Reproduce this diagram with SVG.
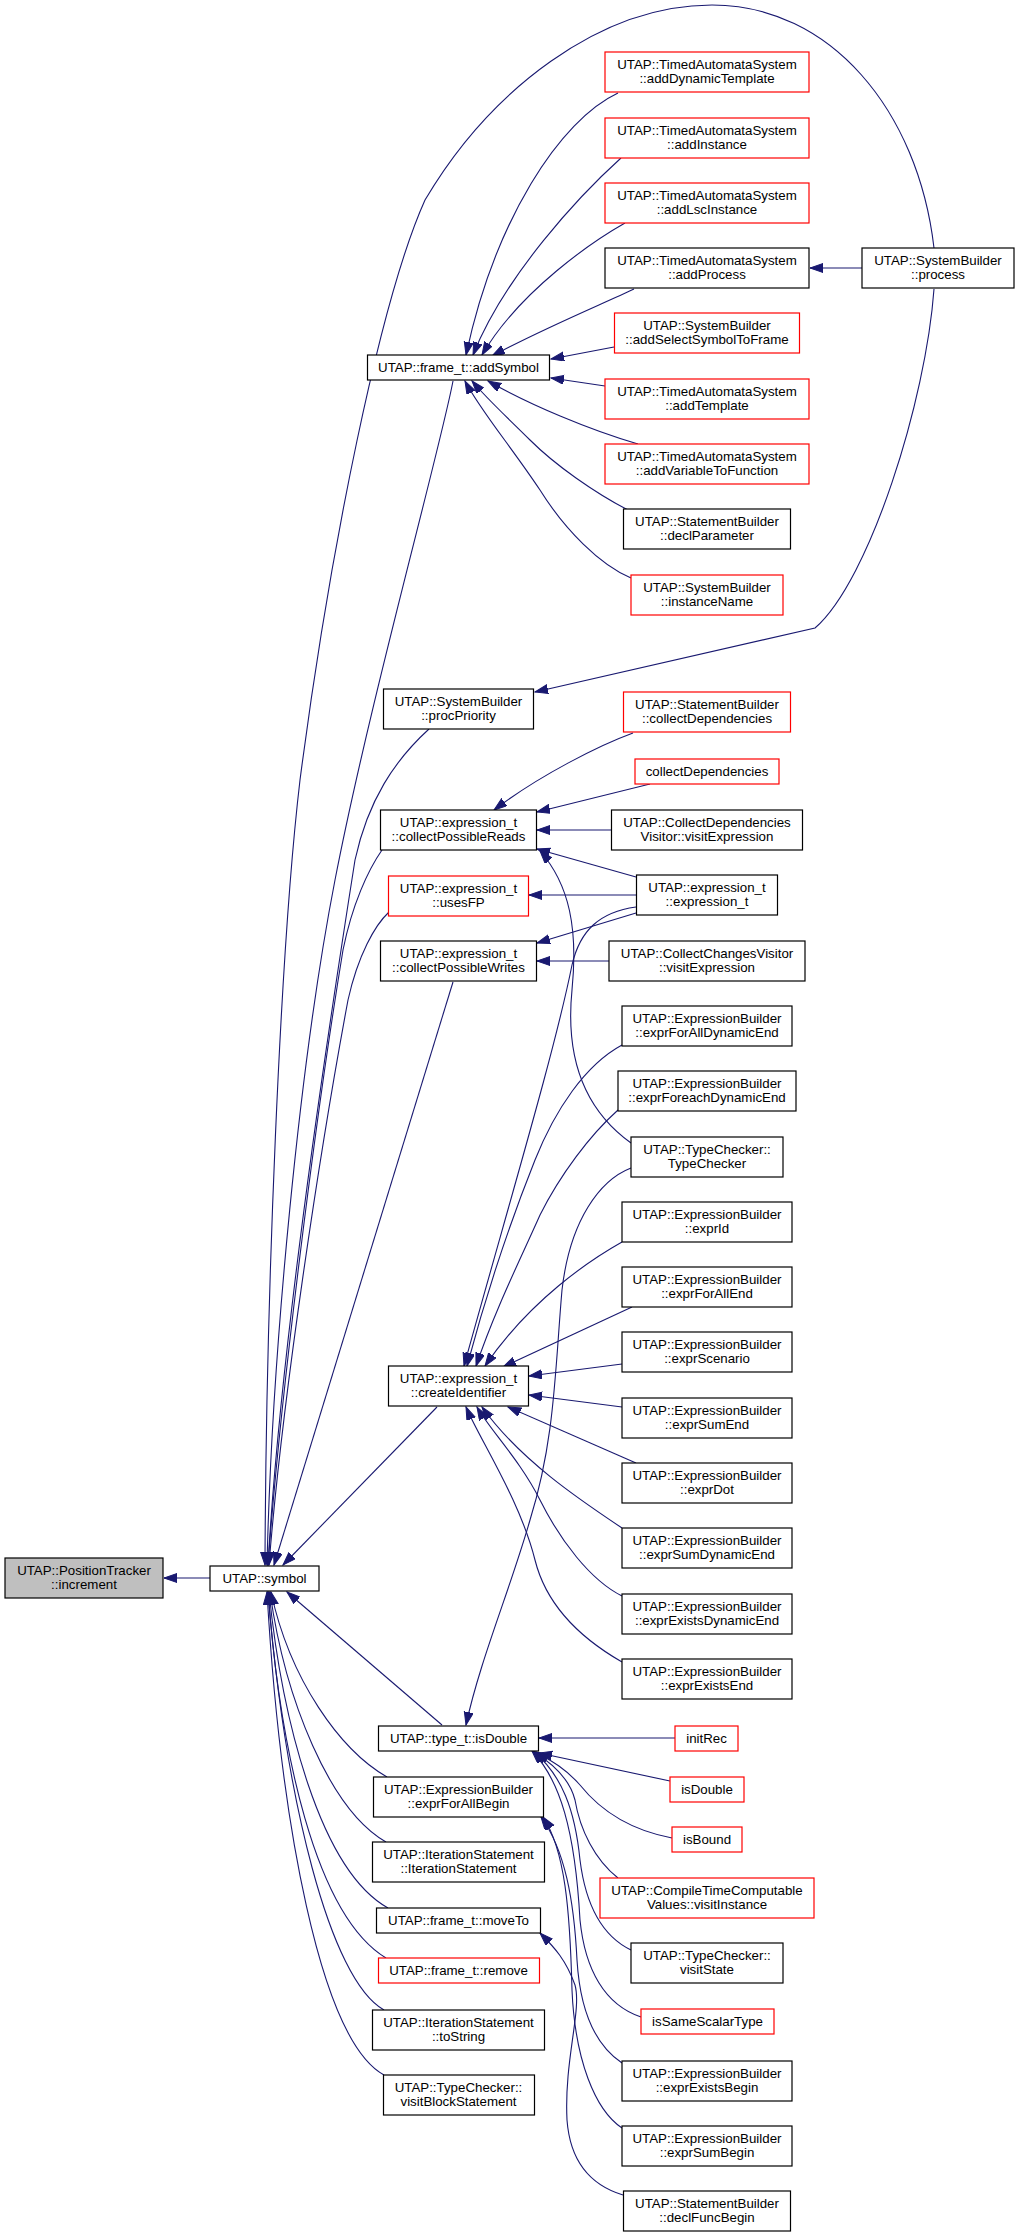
<svg xmlns="http://www.w3.org/2000/svg" width="1015" height="2238" viewBox="0 0 1015 2238">
<style>
.b{fill:#fff;stroke:#000;stroke-width:1.2}
.r{fill:#fff;stroke:#f00;stroke-width:1.2}
.g{fill:#bfbfbf;stroke:#000;stroke-width:1.2}
text{font-family:"Liberation Sans",Arial,sans-serif;font-size:13.3px;text-anchor:middle;fill:#000}
.e{fill:none;stroke:#191970;stroke-width:1.1;marker-end:url(#ah)}
</style>
<defs>
<marker id="ah" markerWidth="14" markerHeight="10" refX="13" refY="4.5" orient="auto" markerUnits="userSpaceOnUse"><path d="M0,0 L13,4.5 L0,9 Z" fill="#191970" stroke="#191970" stroke-width="1"/></marker>
</defs>
<rect width="1015" height="2238" fill="#fff"/>
<g id="edges">
<path class="e" d="M210,1578 L164,1578"/>
<path class="e" d="M862,268 L810,268"/>
<path class="e" d="M934,248 C918,110 830,5 712,5 C600,5 490,90 425,200 C380,300 330,550 300,780 C280,950 266,1300 265,1565"/>
<path class="e" d="M934,289 C926,400 870,580 815,628 L535,692"/>
<path class="e" d="M618,93 C560,120 495,220 466,355"/>
<path class="e" d="M621,158 C580,195 505,275 473,355"/>
<path class="e" d="M625,223 C595,240 520,290 482,355"/>
<path class="e" d="M634,289 C600,305 540,330 492,356"/>
<path class="e" d="M614,347 L551,359"/>
<path class="e" d="M605,386 L551,378"/>
<path class="e" d="M638,444 C590,430 530,405 488,381"/>
<path class="e" d="M628,510 C595,493 555,465 530,440 C510,420 488,400 472,381"/>
<path class="e" d="M631,578 C600,565 565,530 540,490 C510,445 480,410 465,381"/>
<path class="e" d="M453,381 C440,450 370,700 335,880 C300,1060 272,1350 267,1565"/>
<path class="e" d="M429,729 C395,760 368,800 355,860 C325,1050 280,1350 268,1565"/>
<path class="e" d="M382,850 C368,870 352,905 343,950 C315,1120 280,1400 268,1565"/>
<path class="e" d="M389,912 C375,925 358,955 348,1000 C320,1150 282,1400 269,1565"/>
<path class="e" d="M453,982 L274,1565"/>
<path class="e" d="M437,1407 L283,1565"/>
<path class="e" d="M442,1725 L287,1592"/>
<path class="e" d="M387,1777 C340,1750 290,1680 271,1592"/>
<path class="e" d="M386,1842 C330,1810 285,1700 270,1592"/>
<path class="e" d="M388,1908 C320,1870 282,1720 269,1592"/>
<path class="e" d="M386,1958 C315,1915 280,1750 268,1592"/>
<path class="e" d="M384,2010 C330,1980 285,1800 268,1592"/>
<path class="e" d="M384,2075 C320,2040 280,1820 267,1592"/>
<path class="e" d="M633,733 C600,745 540,775 494,810"/>
<path class="e" d="M650,784 L537,812"/>
<path class="e" d="M612,830 L537,830"/>
<path class="e" d="M636,877 L537,849"/>
<path class="e" d="M631,1143 C585,1110 565,1060 572,990 C578,930 570,885 540,851"/>
<path class="e" d="M636,895 L529,895"/>
<path class="e" d="M636,913 L537,943"/>
<path class="e" d="M609,961 L537,961"/>
<path class="e" d="M636,907 C600,912 580,930 572,965 C555,1050 510,1200 464,1366"/>
<path class="e" d="M622,1045 C585,1065 555,1110 535,1160 C515,1210 490,1280 467,1366"/>
<path class="e" d="M618,1110 C590,1135 560,1175 540,1215 C520,1260 495,1310 476,1366"/>
<path class="e" d="M622,1242 C590,1260 530,1300 485,1366"/>
<path class="e" d="M632,1307 L503,1367"/>
<path class="e" d="M622,1364 L529,1376"/>
<path class="e" d="M622,1407 L529,1395"/>
<path class="e" d="M636,1463 L508,1407"/>
<path class="e" d="M622,1528 C580,1500 520,1460 482,1407"/>
<path class="e" d="M622,1596 C590,1580 560,1540 540,1500 C520,1460 490,1430 477,1407"/>
<path class="e" d="M622,1662 C575,1635 545,1600 535,1560 C520,1500 480,1440 466,1407"/>
<path class="e" d="M631,1168 C600,1180 570,1220 562,1290 C555,1370 555,1440 530,1520 C510,1590 480,1660 466,1725"/>
<path class="e" d="M675,1738 L539,1738"/>
<path class="e" d="M670,1781 L539,1753"/>
<path class="e" d="M672,1838 C630,1830 600,1810 580,1785 C565,1768 550,1760 536,1752"/>
<path class="e" d="M618,1878 C595,1860 580,1830 575,1800 C570,1780 555,1765 534,1752"/>
<path class="e" d="M631,1950 C600,1935 585,1900 580,1860 C575,1810 562,1775 533,1751"/>
<path class="e" d="M641,2017 C605,2005 585,1970 580,1920 C575,1830 560,1780 532,1751"/>
<path class="e" d="M622,2063 C595,2045 580,2010 577,1960 C574,1900 565,1850 541,1817"/>
<path class="e" d="M622,2128 C595,2110 575,2060 572,1990 C570,1910 565,1850 543,1817"/>
<path class="e" d="M623,2195 C590,2185 570,2160 567,2120 C564,2060 582,2010 575,1985 C566,1960 555,1948 540,1933"/>
</g>
<g id="nodes">
<g id="n_increment"><rect class="g" x="5" y="1558" width="158" height="40"/><text x="84" y="1575">UTAP::PositionTracker</text><text x="84" y="1588.5">::increment</text></g>
<g id="n_symbol"><rect class="b" x="210" y="1566" width="109" height="25"/><text x="264.5" y="1582.5">UTAP::symbol</text></g>
<g id="n_addSymbol"><rect class="b" x="367.5" y="355" width="182" height="25"/><text x="458.5" y="371.5">UTAP::frame_t::addSymbol</text></g>
<g id="n_addDynamicTemplate"><rect class="r" x="605" y="52" width="204" height="40"/><text x="707" y="69">UTAP::TimedAutomataSystem</text><text x="707" y="82.5">::addDynamicTemplate</text></g>
<g id="n_addInstance"><rect class="r" x="605" y="118" width="204" height="40"/><text x="707" y="135">UTAP::TimedAutomataSystem</text><text x="707" y="148.5">::addInstance</text></g>
<g id="n_addLscInstance"><rect class="r" x="605" y="183" width="204" height="40"/><text x="707" y="200">UTAP::TimedAutomataSystem</text><text x="707" y="213.5">::addLscInstance</text></g>
<g id="n_addProcess"><rect class="b" x="605" y="248" width="204" height="40"/><text x="707" y="265">UTAP::TimedAutomataSystem</text><text x="707" y="278.5">::addProcess</text></g>
<g id="n_process"><rect class="b" x="862" y="248" width="152" height="40"/><text x="938" y="265">UTAP::SystemBuilder</text><text x="938" y="278.5">::process</text></g>
<g id="n_addSelectSymbolToFrame"><rect class="r" x="614.5" y="313" width="185" height="40"/><text x="707" y="330">UTAP::SystemBuilder</text><text x="707" y="343.5">::addSelectSymbolToFrame</text></g>
<g id="n_addTemplate"><rect class="r" x="605" y="379" width="204" height="40"/><text x="707" y="396">UTAP::TimedAutomataSystem</text><text x="707" y="409.5">::addTemplate</text></g>
<g id="n_addVariableToFunction"><rect class="r" x="605" y="444" width="204" height="40"/><text x="707" y="461">UTAP::TimedAutomataSystem</text><text x="707" y="474.5">::addVariableToFunction</text></g>
<g id="n_declParameter"><rect class="b" x="623.5" y="509" width="167" height="40"/><text x="707" y="526">UTAP::StatementBuilder</text><text x="707" y="539.5">::declParameter</text></g>
<g id="n_instanceName"><rect class="r" x="631" y="575" width="152" height="40"/><text x="707" y="592">UTAP::SystemBuilder</text><text x="707" y="605.5">::instanceName</text></g>
<g id="n_procPriority"><rect class="b" x="383.5" y="689" width="150" height="40"/><text x="458.5" y="706">UTAP::SystemBuilder</text><text x="458.5" y="719.5">::procPriority</text></g>
<g id="n_sbCollectDependencies"><rect class="r" x="623.5" y="692" width="167" height="40"/><text x="707" y="709">UTAP::StatementBuilder</text><text x="707" y="722.5">::collectDependencies</text></g>
<g id="n_collectDependencies"><rect class="r" x="635" y="759" width="144" height="25"/><text x="707" y="775.5">collectDependencies</text></g>
<g id="n_collectPossibleReads"><rect class="b" x="380.5" y="810" width="156" height="40"/><text x="458.5" y="827">UTAP::expression_t</text><text x="458.5" y="840.5">::collectPossibleReads</text></g>
<g id="n_cdvVisitExpression"><rect class="b" x="611.5" y="810" width="191" height="40"/><text x="707" y="827">UTAP::CollectDependencies</text><text x="707" y="840.5">Visitor::visitExpression</text></g>
<g id="n_usesFP"><rect class="r" x="388.5" y="876" width="140" height="40"/><text x="458.5" y="893">UTAP::expression_t</text><text x="458.5" y="906.5">::usesFP</text></g>
<g id="n_expression_t"><rect class="b" x="636.5" y="875" width="141" height="40"/><text x="707" y="892">UTAP::expression_t</text><text x="707" y="905.5">::expression_t</text></g>
<g id="n_collectPossibleWrites"><rect class="b" x="380.5" y="941" width="156" height="40"/><text x="458.5" y="958">UTAP::expression_t</text><text x="458.5" y="971.5">::collectPossibleWrites</text></g>
<g id="n_ccvVisitExpression"><rect class="b" x="609" y="941" width="196" height="40"/><text x="707" y="958">UTAP::CollectChangesVisitor</text><text x="707" y="971.5">::visitExpression</text></g>
<g id="n_exprForAllDynamicEnd"><rect class="b" x="622" y="1006" width="170" height="40"/><text x="707" y="1023">UTAP::ExpressionBuilder</text><text x="707" y="1036.5">::exprForAllDynamicEnd</text></g>
<g id="n_exprForeachDynamicEnd"><rect class="b" x="618" y="1071" width="178" height="40"/><text x="707" y="1088">UTAP::ExpressionBuilder</text><text x="707" y="1101.5">::exprForeachDynamicEnd</text></g>
<g id="n_typeChecker"><rect class="b" x="631" y="1137" width="152" height="40"/><text x="707" y="1154">UTAP::TypeChecker::</text><text x="707" y="1167.5">TypeChecker</text></g>
<g id="n_exprId"><rect class="b" x="622" y="1202" width="170" height="40"/><text x="707" y="1219">UTAP::ExpressionBuilder</text><text x="707" y="1232.5">::exprId</text></g>
<g id="n_exprForAllEnd"><rect class="b" x="622" y="1267" width="170" height="40"/><text x="707" y="1284">UTAP::ExpressionBuilder</text><text x="707" y="1297.5">::exprForAllEnd</text></g>
<g id="n_exprScenario"><rect class="b" x="622" y="1332" width="170" height="40"/><text x="707" y="1349">UTAP::ExpressionBuilder</text><text x="707" y="1362.5">::exprScenario</text></g>
<g id="n_createIdentifier"><rect class="b" x="388.5" y="1366" width="140" height="40"/><text x="458.5" y="1383">UTAP::expression_t</text><text x="458.5" y="1396.5">::createIdentifier</text></g>
<g id="n_exprSumEnd"><rect class="b" x="622" y="1398" width="170" height="40"/><text x="707" y="1415">UTAP::ExpressionBuilder</text><text x="707" y="1428.5">::exprSumEnd</text></g>
<g id="n_exprDot"><rect class="b" x="622" y="1463" width="170" height="40"/><text x="707" y="1480">UTAP::ExpressionBuilder</text><text x="707" y="1493.5">::exprDot</text></g>
<g id="n_exprSumDynamicEnd"><rect class="b" x="622" y="1528" width="170" height="40"/><text x="707" y="1545">UTAP::ExpressionBuilder</text><text x="707" y="1558.5">::exprSumDynamicEnd</text></g>
<g id="n_exprExistsDynamicEnd"><rect class="b" x="622" y="1594" width="170" height="40"/><text x="707" y="1611">UTAP::ExpressionBuilder</text><text x="707" y="1624.5">::exprExistsDynamicEnd</text></g>
<g id="n_exprExistsEnd"><rect class="b" x="622" y="1659" width="170" height="40"/><text x="707" y="1676">UTAP::ExpressionBuilder</text><text x="707" y="1689.5">::exprExistsEnd</text></g>
<g id="n_typeIsDouble"><rect class="b" x="378.5" y="1726" width="160" height="25"/><text x="458.5" y="1742.5">UTAP::type_t::isDouble</text></g>
<g id="n_initRec"><rect class="r" x="675" y="1726" width="63" height="25"/><text x="706.5" y="1742.5">initRec</text></g>
<g id="n_isDouble"><rect class="r" x="670" y="1777" width="74" height="25"/><text x="707" y="1793.5">isDouble</text></g>
<g id="n_exprForAllBegin"><rect class="b" x="373.5" y="1777" width="170" height="40"/><text x="458.5" y="1794">UTAP::ExpressionBuilder</text><text x="458.5" y="1807.5">::exprForAllBegin</text></g>
<g id="n_isBound"><rect class="r" x="672" y="1827" width="70" height="25"/><text x="707" y="1843.5">isBound</text></g>
<g id="n_iterationStatement"><rect class="b" x="372.5" y="1842" width="172" height="40"/><text x="458.5" y="1859">UTAP::IterationStatement</text><text x="458.5" y="1872.5">::IterationStatement</text></g>
<g id="n_visitInstance"><rect class="r" x="600" y="1878" width="214" height="40"/><text x="707" y="1895">UTAP::CompileTimeComputable</text><text x="707" y="1908.5">Values::visitInstance</text></g>
<g id="n_moveTo"><rect class="b" x="376.5" y="1908" width="164" height="25"/><text x="458.5" y="1924.5">UTAP::frame_t::moveTo</text></g>
<g id="n_visitState"><rect class="b" x="631" y="1943" width="152" height="40"/><text x="707" y="1960">UTAP::TypeChecker::</text><text x="707" y="1973.5">visitState</text></g>
<g id="n_remove"><rect class="r" x="378.5" y="1958" width="161" height="25"/><text x="458.5" y="1974.5">UTAP::frame_t::remove</text></g>
<g id="n_isSameScalarType"><rect class="r" x="641" y="2009" width="133" height="25"/><text x="707.5" y="2025.5">isSameScalarType</text></g>
<g id="n_toString"><rect class="b" x="372.5" y="2010" width="172" height="40"/><text x="458.5" y="2027">UTAP::IterationStatement</text><text x="458.5" y="2040.5">::toString</text></g>
<g id="n_exprExistsBegin"><rect class="b" x="622" y="2061" width="170" height="40"/><text x="707" y="2078">UTAP::ExpressionBuilder</text><text x="707" y="2091.5">::exprExistsBegin</text></g>
<g id="n_visitBlockStatement"><rect class="b" x="383.5" y="2075" width="151" height="40"/><text x="458.5" y="2092">UTAP::TypeChecker::</text><text x="458.5" y="2105.5">visitBlockStatement</text></g>
<g id="n_exprSumBegin"><rect class="b" x="622" y="2126" width="170" height="40"/><text x="707" y="2143">UTAP::ExpressionBuilder</text><text x="707" y="2156.5">::exprSumBegin</text></g>
<g id="n_declFuncBegin"><rect class="b" x="623.5" y="2191" width="167" height="40"/><text x="707" y="2208">UTAP::StatementBuilder</text><text x="707" y="2221.5">::declFuncBegin</text></g>
</g>
</svg>
